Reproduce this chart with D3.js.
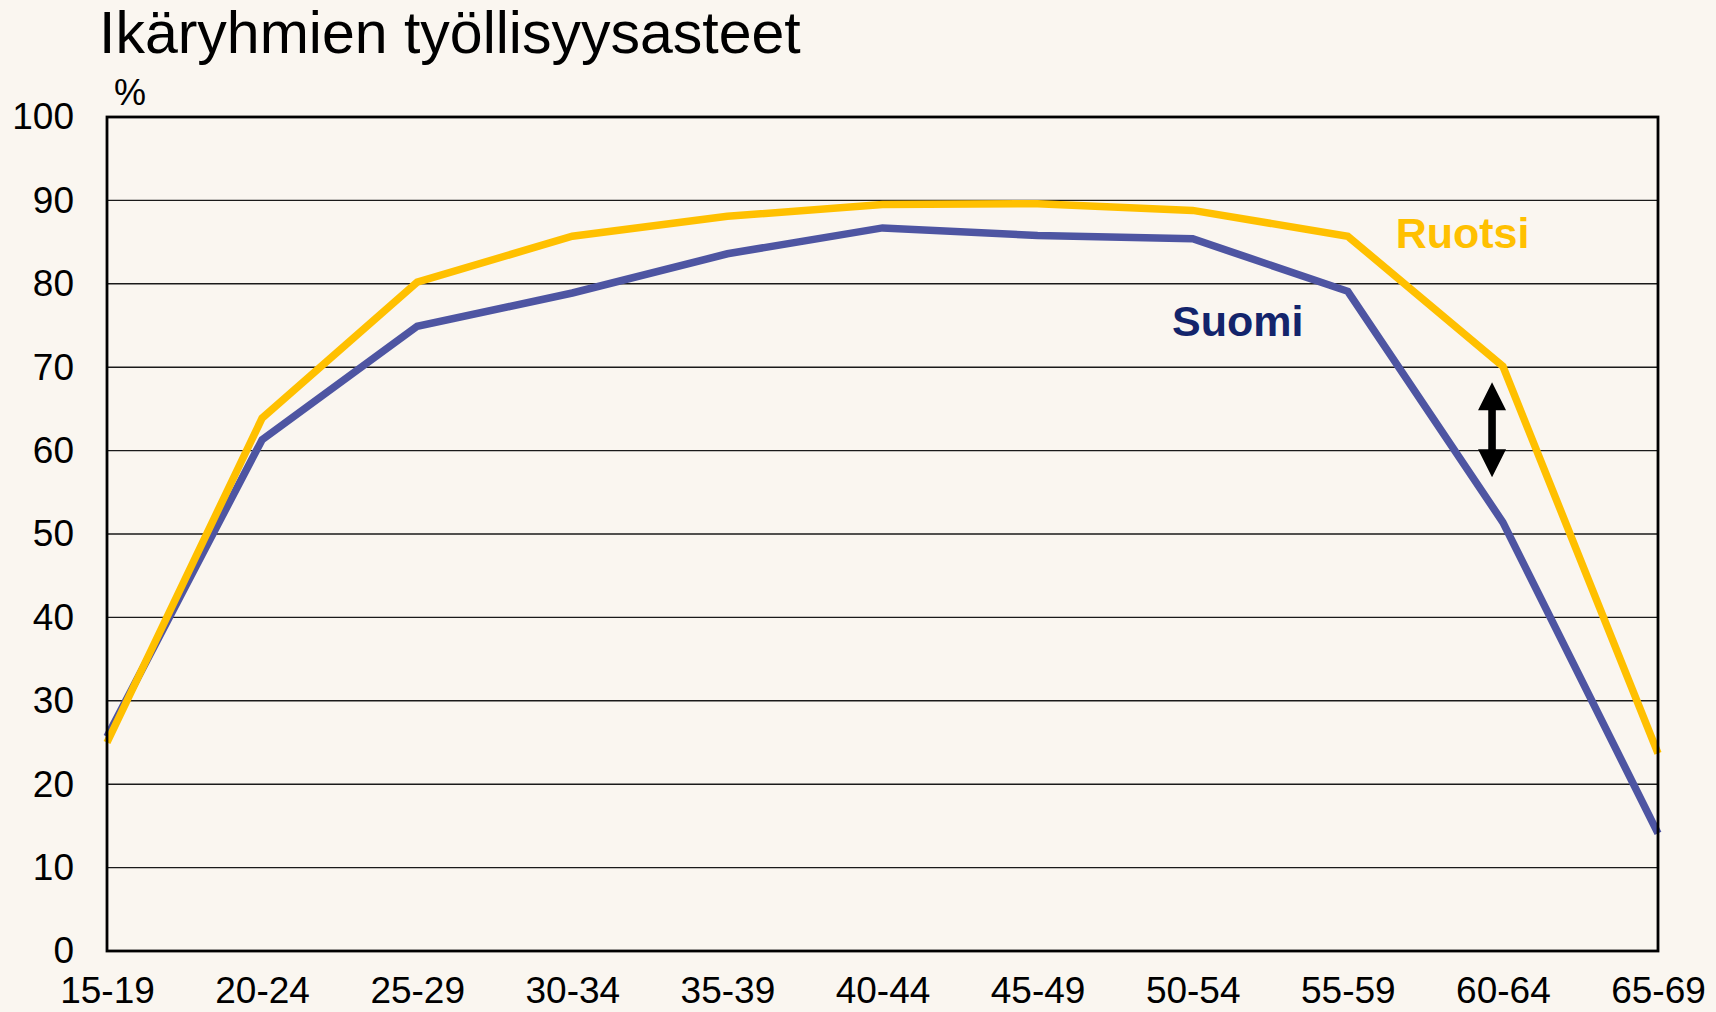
<!DOCTYPE html>
<html>
<head>
<meta charset="utf-8">
<script src="https://cdn.jsdelivr.net/npm/d3@7"></script>
<style>
  html, body { margin: 0; padding: 0; background: #faf6f0; }
  svg { display: block; font-family: 'Liberation Sans', Arial, sans-serif; }
</style>
</head>
<body>
<svg id="chart"></svg>
<script>
const ageGroups = ['15-19', '20-24', '25-29', '30-34', '35-39', '40-44', '45-49', '50-54', '55-59', '60-64', '65-69'];
const ruotsi = [25.0, 63.9, 80.2, 85.7, 88.1, 89.5, 89.6, 88.8, 85.7, 70.1, 23.7];
const suomi = [25.7, 61.3, 74.9, 78.9, 83.6, 86.7, 85.8, 85.4, 79.1, 51.4, 14.1];
const yTicks = [0, 10, 20, 30, 40, 50, 60, 70, 80, 90, 100];
// gap arrow between the lines, near 60-64 (x as category index, y in %)
const gapArrow = {x: 8.93, from: 68.2, to: 56.8};

const width = 1716, height = 1012;
const margin = {top: 117, right: 58, bottom: 61, left: 107};
const innerW = width - margin.left - margin.right;
const innerH = height - margin.top - margin.bottom;

const svg = d3.select('#chart')
  .attr('width', width)
  .attr('height', height);

svg.append('rect')
  .attr('width', width)
  .attr('height', height)
  .attr('fill', '#faf6f0');

const chart = svg.append('g')
  .attr('transform', `translate(${margin.left},${margin.top})`);

const xScale = d3.scaleLinear()
  .domain([0, ageGroups.length - 1])
  .range([0, innerW]);

const yScale = d3.scaleLinear()
  .domain([0, 100])
  .range([innerH, 0]);

// gridlines
chart.append('g')
  .selectAll('line')
  .data(yTicks.filter(d => d > 0 && d < 100))
  .join('line')
  .attr('x1', 0)
  .attr('x2', innerW)
  .attr('y1', d => yScale(d))
  .attr('y2', d => yScale(d))
  .attr('stroke', '#1a1a1a')
  .attr('stroke-width', 1.4);

// axes
const yAxis = d3.axisLeft(yScale)
  .tickValues(yTicks)
  .tickSize(0)
  .tickPadding(33);

chart.append('g')
  .call(yAxis)
  .call(g => g.select('.domain').remove())
  .selectAll('text')
  .attr('font-size', 37)
  .attr('font-family', "'Liberation Sans', Arial, sans-serif")
  .attr('fill', '#000');

const xAxis = d3.axisBottom(xScale)
  .tickValues(d3.range(ageGroups.length))
  .tickFormat(i => ageGroups[i])
  .tickSize(0)
  .tickPadding(26);

chart.append('g')
  .attr('transform', `translate(0,${innerH})`)
  .call(xAxis)
  .call(g => g.select('.domain').remove())
  .selectAll('text')
  .attr('font-size', 37)
  .attr('font-family', "'Liberation Sans', Arial, sans-serif")
  .attr('fill', '#000');

// series lines
const line = d3.line()
  .x((d, i) => xScale(i))
  .y(d => yScale(d));

chart.append('path')
  .datum(suomi)
  .attr('d', line)
  .attr('fill', 'none')
  .attr('stroke', '#4e55a2')
  .attr('stroke-width', 7.5)
  .attr('stroke-linejoin', 'miter');

chart.append('path')
  .datum(ruotsi)
  .attr('d', line)
  .attr('fill', 'none')
  .attr('stroke', '#ffc000')
  .attr('stroke-width', 7.5)
  .attr('stroke-linejoin', 'miter');

// plot frame
chart.append('rect')
  .attr('width', innerW)
  .attr('height', innerH)
  .attr('fill', 'none')
  .attr('stroke', '#000')
  .attr('stroke-width', 2.8);

// double-headed arrow
const ax = xScale(gapArrow.x);
const ay1 = yScale(gapArrow.from);
const ay2 = yScale(gapArrow.to);
const headW = 14, headL = 28, shaft = 3.8;
const arrowPath = [
  [ax, ay1],
  [ax + headW, ay1 + headL],
  [ax + shaft, ay1 + headL],
  [ax + shaft, ay2 - headL],
  [ax + headW, ay2 - headL],
  [ax, ay2],
  [ax - headW, ay2 - headL],
  [ax - shaft, ay2 - headL],
  [ax - shaft, ay1 + headL],
  [ax - headW, ay1 + headL]
];
chart.append('path')
  .attr('d', d3.line()(arrowPath) + 'Z')
  .attr('fill', '#000');

// series labels
chart.append('text')
  .attr('x', xScale(8.74))
  .attr('y', yScale(84.3))
  .attr('text-anchor', 'middle')
  .attr('font-size', 43)
  .attr('font-weight', 'bold')
  .attr('fill', '#ffc000')
  .text('Ruotsi');

chart.append('text')
  .attr('x', xScale(7.29))
  .attr('y', yScale(73.7))
  .attr('text-anchor', 'middle')
  .attr('font-size', 43)
  .attr('font-weight', 'bold')
  .attr('fill', '#13246b')
  .text('Suomi');

// title and unit
svg.append('text')
  .attr('x', 99)
  .attr('y', 53)
  .attr('font-size', 59)
  .attr('fill', '#000')
  .text('Ikäryhmien työllisyysasteet');

svg.append('text')
  .attr('x', 114)
  .attr('y', 105)
  .attr('font-size', 36)
  .attr('fill', '#000')
  .text('%');
</script>
</body>
</html>
